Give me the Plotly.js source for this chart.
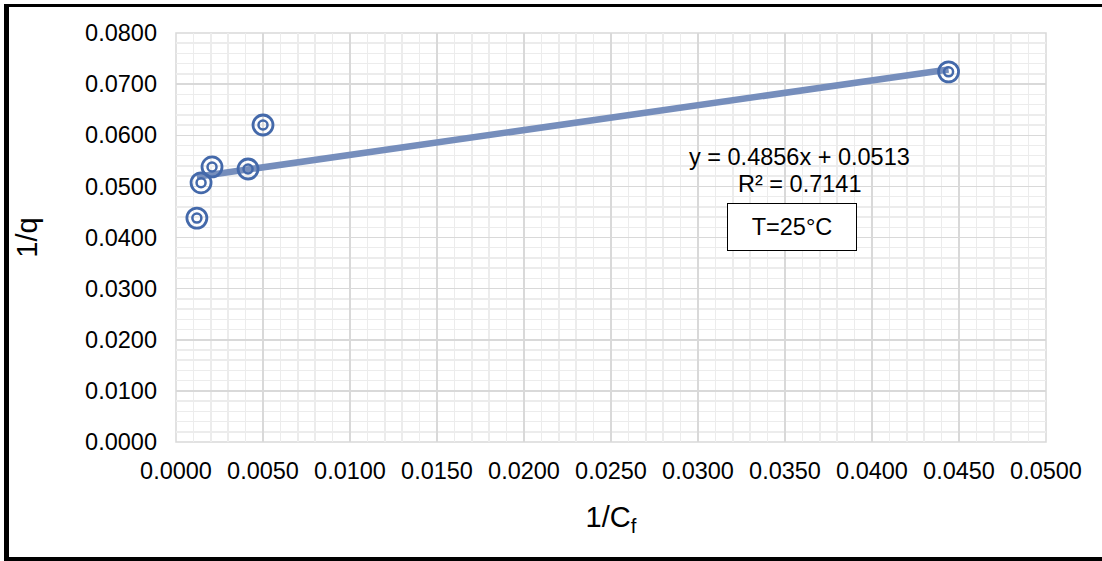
<!DOCTYPE html>
<html>
<head>
<meta charset="utf-8">
<script src="https://cdn.plot.ly/plotly-3.0.1.min.js"></script>
<style>
  html, body { margin: 0; padding: 0; background: #fff; }
  #wrap { position: relative; width: 1102px; height: 561px; overflow: hidden; }
  #chart { position: absolute; left: 0; top: 0; width: 1102px; height: 561px; }
  .bar { position: absolute; background: #000; }
</style>
</head>
<body>
<div id="wrap">
  <div id="chart"></div>
  <div class="bar" style="left:4px;top:4px;width:5px;height:557px;"></div>
  <div class="bar" style="left:4px;top:4px;width:1098px;height:3px;"></div>
  <div class="bar" style="left:4px;top:557px;width:1098px;height:4px;"></div>
</div>
<script>
// Data
const invCf = [0.0012, 0.00144, 0.00207, 0.00414, 0.0050, 0.0444];
const invQ  = [0.0438, 0.0507, 0.0538, 0.0534, 0.0620, 0.0724];

// Trendline as printed on the chart
const slope = 0.4856;
const intercept = 0.0513;
const rSquared = 0.7141;
const tempLabel = 'T=25°C';

const xTickVals = [0, 0.005, 0.01, 0.015, 0.02, 0.025, 0.03, 0.035, 0.04, 0.045, 0.05];
const yTickVals = [0, 0.01, 0.02, 0.03, 0.04, 0.05, 0.06, 0.07, 0.08];

const xMin = Math.min(...invCf), xMax = Math.max(...invCf);
const trendX = [xMin, xMax];
const trendY = trendX.map(v => slope * v + intercept);

const markerColor = 'rgb(68,105,170)';
const lineColor = 'rgb(118,142,188)';

const traces = [
  {
    x: trendX, y: trendY, type: 'scatter', mode: 'lines',
    line: { color: lineColor, width: 6.5 },
    hoverinfo: 'skip', showlegend: false
  },
  {
    x: invCf, y: invQ, type: 'scatter', mode: 'markers',
    marker: { symbol: 'circle-open', size: 20, color: markerColor, line: { width: 2.8, color: markerColor } },
    showlegend: false
  },
  {
    x: invCf, y: invQ, type: 'scatter', mode: 'markers',
    marker: { symbol: 'circle-open', size: 9, color: markerColor, line: { width: 2.5, color: markerColor } },
    showlegend: false
  }
];

const fontFam = '"Liberation Sans", Arial, sans-serif';

const layout = {
  width: 1102, height: 561,
  margin: { l: 176, r: 56, t: 33, b: 119 },
  paper_bgcolor: '#fff', plot_bgcolor: '#fff',
  font: { family: fontFam, color: '#000', size: 23.5 },
  xaxis: {
    range: [0, 0.05], tickvals: xTickVals, tickformat: '.4f',
    showgrid: true, gridcolor: '#d9d9d9', gridwidth: 1.5,
    minor: { dtick: 0.001, showgrid: true, gridcolor: '#ececec', gridwidth: 1.5 },
    zeroline: false, showline: false, ticks: '',
    ticklabelstandoff: 12,
    tickfont: { size: 23.5, family: fontFam, color: '#000' },
    title: { text: '1/C<sub>f</sub>', font: { size: 29, family: fontFam, color: '#000' }, standoff: 24 }
  },
  yaxis: {
    range: [0, 0.08], tickvals: yTickVals, tickformat: '.4f',
    showgrid: true, gridcolor: '#d9d9d9', gridwidth: 1.5,
    minor: { dtick: 0.002, showgrid: true, gridcolor: '#ececec', gridwidth: 1.5 },
    zeroline: false, showline: false, ticks: '',
    ticklabelstandoff: 18,
    tickfont: { size: 23.5, family: fontFam, color: '#000' },
    title: { text: '1/q', font: { size: 29, family: fontFam, color: '#000' }, standoff: 38 }
  },
  shapes: [
    { type: 'rect', xref: 'paper', yref: 'paper', x0: 0, x1: 1, y0: 0, y1: 1,
      line: { color: '#d9d9d9', width: 1.5 }, fillcolor: 'rgba(0,0,0,0)', layer: 'below' }
  ],
  annotations: [
    { xref: 'paper', yref: 'paper', x: 0.717, y: 0.697, xanchor: 'center', yanchor: 'middle', showarrow: false,
      text: 'y = ' + slope.toFixed(4) + 'x + ' + intercept.toFixed(4),
      font: { size: 23.5, family: fontFam, color: '#000' } },
    { xref: 'paper', yref: 'paper', x: 0.717, y: 0.631, xanchor: 'center', yanchor: 'middle', showarrow: false,
      text: 'R² = ' + rSquared.toFixed(4),
      font: { size: 23.5, family: fontFam, color: '#000' } },
    { xref: 'paper', yref: 'paper', x: 0.708, y: 0.526, xanchor: 'center', yanchor: 'middle', showarrow: false,
      text: tempLabel, width: 128, height: 46, align: 'center', valign: 'middle',
      bordercolor: '#000', borderwidth: 1, borderpad: 0, bgcolor: '#fff',
      font: { size: 23.5, family: fontFam, color: '#000' } }
  ]
};

Plotly.newPlot('chart', traces, layout, { displayModeBar: false, staticPlot: true });
</script>
</body>
</html>
